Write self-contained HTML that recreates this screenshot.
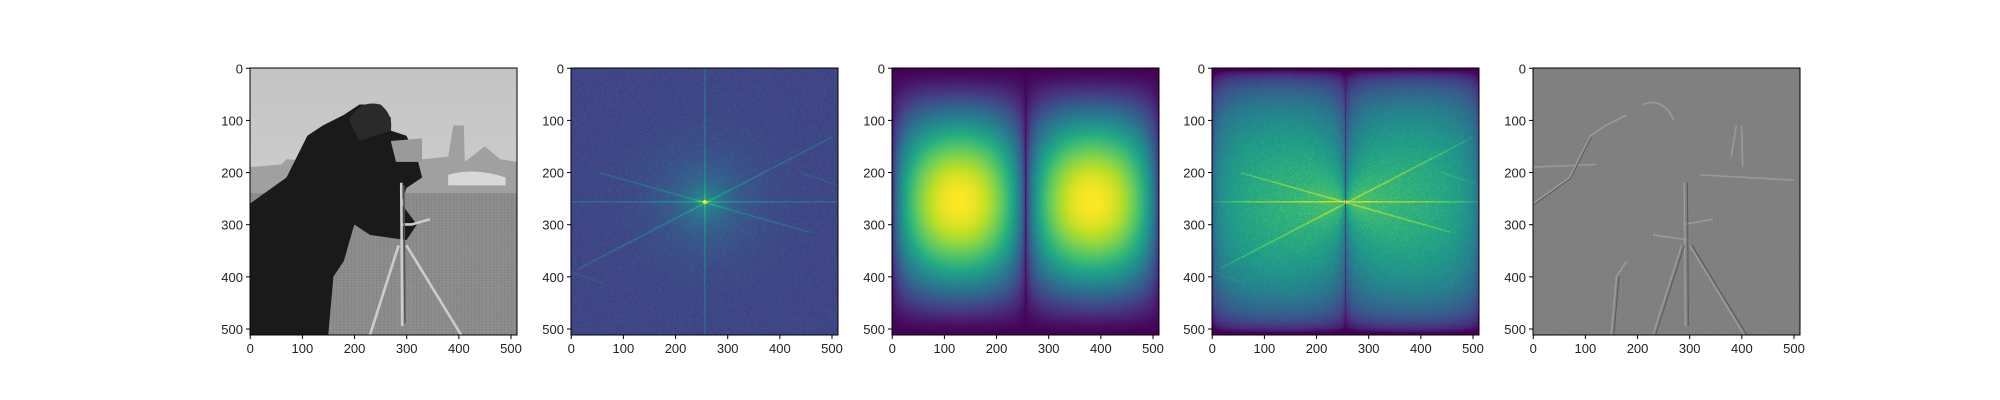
<!DOCTYPE html>
<html><head><meta charset="utf-8"><style>
html,body{margin:0;padding:0;background:#fff;width:2000px;height:400px;overflow:hidden;position:relative}
svg{position:absolute;left:0;top:0}
canvas{position:absolute;top:68px;width:267px;height:267px}
svg text{font-family:"Liberation Sans","DejaVu Sans",sans-serif;font-size:13px;fill:#222}
</style></head><body>
<canvas id="cv2" width="512" height="512" style="left:571px"></canvas>
<canvas id="cv3" width="512" height="512" style="left:892px"></canvas>
<canvas id="cv4" width="512" height="512" style="left:1212px"></canvas>
<svg id="fig" width="2000" height="400" xmlns="http://www.w3.org/2000/svg">
<defs>
<linearGradient id="sky" x1="0" y1="0" x2="0" y2="1"><stop offset="0" stop-color="#c4c4c4"/><stop offset="1" stop-color="#d6d6d6"/></linearGradient>
<pattern id="grain" width="7" height="5" patternUnits="userSpaceOnUse"><rect width="7" height="5" fill="#8a8a8a"/><rect x="0" y="0" width="2" height="1" fill="#9c9c9c"/><rect x="4" y="2" width="2" height="1" fill="#767676"/><rect x="2" y="4" width="1" height="1" fill="#a0a0a0"/></pattern>
<pattern id="grain5" width="7" height="5" patternUnits="userSpaceOnUse"><rect width="7" height="5" fill="#808080"/><rect x="0" y="0" width="2" height="1" fill="#8a8a8a"/><rect x="4" y="2" width="2" height="1" fill="#747474"/></pattern>
</defs>
</svg>
<script>
const ticks = [0,100,200,300,400,500];
const imgSize = 512;
const panelLefts = [250,571,892,1212,1533];
// spectrum streaks: [x0,y0,x1,y1,strength] in image pixel units
const streakX0 = [15, 57, 0, 440];
const streakY0 = [384, 201, 390, 200];
const streakX1 = [500, 456, 60, 512];
const streakY1 = [132, 314, 412, 225];
const streakAmp = [0.22, 0.2, 0.12, 0.12];

const svg = document.getElementById('fig');
const NS = 'http://www.w3.org/2000/svg';
const TOP = 68, W = 267;
function sc(v){return (v+0.5)*W/imgSize;}
function mk(tag, attrs, parent){const e=document.createElementNS(NS,tag);for(const k in attrs)e.setAttribute(k,attrs[k]);(parent||svg).appendChild(e);return e;}

const VIR=[[68,1,84],[72,36,117],[65,68,135],[53,95,141],[42,120,142],[33,145,140],[34,168,132],[68,191,112],[122,209,81],[189,223,38],[253,231,37]];
function vir(v){v=Math.max(0,Math.min(1,v))*10;const i=Math.min(9,Math.floor(v)),f=v-i,a=VIR[i],b=VIR[i+1];return [a[0]+(b[0]-a[0])*f,a[1]+(b[1]-a[1])*f,a[2]+(b[2]-a[2])*f];}
let seed=12345;function rnd(){seed=(seed*1103515245+12345)&0x7fffffff;return seed/0x7fffffff;}
function segDist(px,py,x0,y0,x1,y1){const dx=x1-x0,dy=y1-y0;let t=((px-x0)*dx+(py-y0)*dy)/(dx*dx+dy*dy);t=Math.max(0,Math.min(1,t));const qx=x0+t*dx-px,qy=y0+t*dy-py;return Math.sqrt(qx*qx+qy*qy);}
const N=512, spec=new Float32Array(N*N), filt=new Float32Array(N*N);
for(let y=0;y<N;y++)for(let x=0;x<N;x++){
  const dx=x-256,dy=y-256,r=Math.sqrt(dx*dx+dy*dy);
  let v=0.21+(rnd()-0.5)*0.12+(rnd()-0.5)*0.06;
  v+=0.3*Math.exp(-r/50);
  if(Math.abs(y-256)<2)v+=0.16*Math.exp(-Math.abs(dx)/400)+0.04;
  if(Math.abs(x-256)<2)v+=0.14*Math.exp(-Math.abs(dy)/400)+0.04;
  for(let k=0;k<streakX0.length;k++){const d=segDist(x,y,streakX0[k],streakY0[k],streakX1[k],streakY1[k]);if(d<3)v+=streakAmp[k]*Math.exp(-d*d/2)*(0.6+0.4*Math.exp(-r/200));}
  if(r<4)v+=0.35;
  spec[y*N+x]=v;
  const sx=Math.pow(Math.abs(Math.sin(2*Math.PI*x/N)),0.45), sy=Math.pow(Math.sin(Math.PI*(y+0.5)/N),1.4);
  filt[y*N+x]=sx*sy;
}
function paint(id,fn){const c=document.getElementById(id).getContext('2d');const im=c.createImageData(N,N);for(let i=0;i<N*N;i++){const col=vir(fn(i));im.data[4*i]=col[0];im.data[4*i+1]=col[1];im.data[4*i+2]=col[2];im.data[4*i+3]=255;}c.putImageData(im,0,0);}
paint('cv2',i=>spec[i]);
paint('cv3',i=>filt[i]);
paint('cv4',i=>{const h=filt[i];return (spec[i]+0.3)*Math.pow(h,0.25)*1.2 - (1-Math.pow(h,0.12))*0.35;});

const contents = [
`<rect width="512" height="512" fill="url(#sky)"/>
<path d="M0 190 L60 185 L70 175 L120 178 L300 190 L330 175 L380 170 L390 110 L410 110 L412 180 L450 150 L480 175 L512 180 L512 245 L0 250Z" fill="#a0a0a0"/>
<path d="M380 205 Q430 190 490 210 L490 225 L380 225Z" fill="#d8d8d8"/>
<rect y="240" width="512" height="272" fill="url(#grain)"/>
<path d="M0 260 L70 210 L110 130 L140 110 L180 90 L210 70 L240 70 L270 95 L270 120 L300 130 L310 150 L320 170 L330 210 L300 230 L290 260 L320 300 L300 330 L230 320 L200 300 L180 370 L160 400 L150 512 L0 512Z" fill="#1a1a1a"/>
<path d="M190 100 Q210 60 250 70 Q275 90 270 120 L240 130 L210 140Z" fill="#2a2a2a"/>
<path d="M270 140 L330 135 L330 180 L280 180Z" fill="#9a9a9a"/>
<path d="M290 220 L292 495 M285 340 L230 512 M300 340 L405 512 M290 300 L310 300 L345 290" stroke="#ccc" stroke-width="5" fill="none"/>
<path d="M295 225 L297 490" stroke="#555" stroke-width="3"/>`,
``,``,``,
`<rect width="512" height="512" fill="#808080"/>
<rect y="240" width="512" height="272" fill="url(#grain5)"/>
<path d="M0 260 L70 210 L110 130 L140 110 L180 90 M210 70 Q250 55 270 100 M290 220 L292 495 M285 340 L230 512 M300 340 L405 512 M290 300 L345 290 M0 190 L120 185 M380 170 L390 110 M400 110 L402 190 M150 512 L160 400 L180 370 M300 330 L230 320 M320 205 L500 215" stroke="#9a9a9a" stroke-width="3" fill="none"/>
<path d="M2 262 L72 212 L112 132 M296 220 L298 495 M290 340 L235 512 M305 340 L410 512 M155 512 L165 400" stroke="#5a5a5a" stroke-width="2" fill="none"/>`
];
const names = ['original-image-panel','fft-magnitude-panel','frequency-filter-panel','filtered-spectrum-panel','filtered-image-panel'];
panelLefts.forEach((L,i)=>{
  const g = mk('g',{});
  
  
  if(contents[i]){
    const clip = mk('clipPath',{id:'c'+i}, g);
    mk('rect',{x:L,y:TOP,width:W,height:W},clip);
    const img = mk('g',{'clip-path':'url(#c'+i+')'},g);
    const inner = mk('g',{transform:`translate(${L},${TOP}) scale(${W/imgSize})`},img);
    inner.innerHTML = contents[i];
  }
  const frame = mk('rect',{x:L,y:TOP,width:W,height:W,fill:'none',stroke:'#000','stroke-width':1},g);
  
  
  ticks.forEach(t=>{
    const x = L + sc(t), y = TOP + sc(t);
    mk('line',{x1:x,x2:x,y1:TOP+W,y2:TOP+W+4,stroke:'#000'},g);
    const tx = mk('text',{x:x,y:TOP+W+18,'text-anchor':'middle'},g);
    tx.textContent = t;
    
    
    mk('line',{x1:L-4,x2:L,y1:y,y2:y,stroke:'#000'},g);
    const ty = mk('text',{x:L-7,y:y+5,'text-anchor':'end'},g);
    ty.textContent = t;
    
    
  });
});
</script>
</body></html>
